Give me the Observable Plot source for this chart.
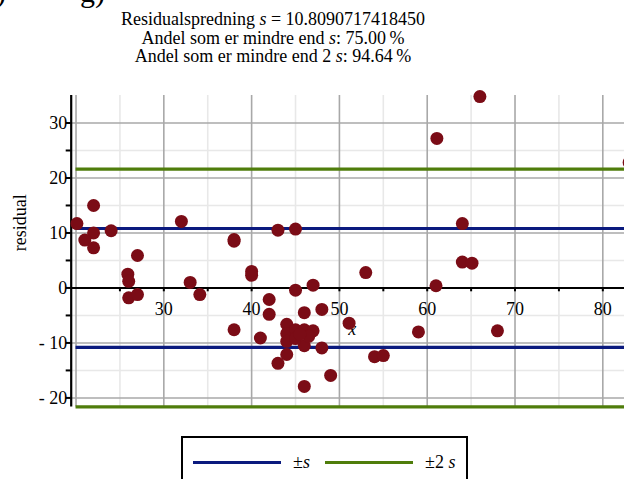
<!DOCTYPE html>
<html>
<head>
<meta charset="utf-8">
<script src="https://cdn.jsdelivr.net/npm/d3@7"></script>
<script src="https://cdn.jsdelivr.net/npm/@observablehq/plot@0.6"></script>
<style>
  html, body { margin: 0; padding: 0; background: #fff; }
  body { width: 624px; height: 479px; overflow: hidden; position: relative; font-family: "Liberation Serif", "Times New Roman", Times, serif; }
  #title { position: absolute; left: 0; top: 10px; width: 546px; text-align: center; font-size: 18px; line-height: 18.7px; color: #000; }
  #chart { position: absolute; left: 0; top: 80px; }
  #legend { position: absolute; left: 181px; top: 436px; width: 283px; height: 60px; border: 2px solid #000; }
  .lg-line { position: absolute; top: 23px; height: 3px; width: 88px; }
  .lg-text { position: absolute; top: 14px; font-size: 18px; line-height: 20px; }
  .top-frag { position: absolute; top: -24px; font-size: 30px; line-height: 32px; }
</style>
</head>
<body>
<div class="top-frag" style="left:-4px">)</div>
<div class="top-frag" style="left:80px">g)</div>
<div id="title">
  <div>Residualspredning <i>s</i> = 10.8090717418450</div>
  <div>Andel som er mindre end <i>s</i>: 75.00&#8201;%</div>
  <div>Andel som er mindre end 2 <i>s</i>: 94.64&#8201;%</div>
</div>
<div id="chart"></div>
<div id="legend">
  <div class="lg-line" style="left:10px;background:#0b1a7e"></div>
  <div class="lg-text" style="left:110px">±<i>s</i></div>
  <div class="lg-line" style="left:142px;background:#4f7d0b"></div>
  <div class="lg-text" style="left:242px">±2 <i>s</i></div>
</div>
<script>
// data
const xValues = [20.1, 22.0, 22.0, 21.0, 22.0, 24.0, 27.0, 25.9, 26.0, 26.0, 27.0, 32.0, 33.0, 34.1, 38.0, 38.0, 40.0, 40.0, 38.0, 41.0,
                 42.0, 42.0, 43.0, 45.0, 45.0, 47.0, 46.0, 48.0, 44.0, 44.0, 44.0, 45.0, 46.0, 47.0, 46.0, 45.0, 46.5, 48.0, 44.0, 43.0,
                 46.0, 49.0, 51.1, 53.0, 54.0, 55.0, 59.0, 61.0, 64.0, 65.1, 68.0, 64.0, 61.1, 66.0, 83.0, 45.5];
const residuals = [11.7, 15.0, 10.0, 8.7, 7.3, 10.4, 5.9, 2.5, 1.2, -1.8, -1.2, 12.1, 1.0, -1.2, 8.5, 8.8, 3.0, 2.3, -7.6, -9.1,
                   -2.1, -4.8, 10.5, 10.7, -0.4, 0.5, -4.5, -3.9, -6.6, -8.3, -9.7, -7.6, -7.6, -7.8, -10.5, -9.2, -8.8, -10.9, -12.1, -13.7,
                   -17.9, -15.9, -6.4, 2.8, -12.5, -12.3, -8.0, 0.4, 4.7, 4.5, -7.8, 11.7, 27.2, 34.8, 22.8, -8.4];
const s = 10.8090717418450;
const xTickLabels = [30, 40, 50, 60, 70, 80];
const yTickLabels = [30, 20, 10, 0, -10, -20];
const xMinorTicks = [25, 35, 45, 55, 65, 75];
const yMinorTicks = [25, 15, 5, -5, -15];
const xAllTicks = [25, 30, 35, 40, 45, 50, 55, 60, 65, 70, 75, 80];
const yAllTicks = [30, 25, 20, 15, 10, 5, 0, -5, -10, -15, -20];
const xMajorGrid = [20, 30, 40, 50, 60, 70, 80];

const xDomain = [19.45, 82.47];
const yDomain = [-21.65, 35];
const dataXMin = 20;

const points = xValues.map((x, i) => ({x, r: residuals[i]}));

const red = "#7b0c16", blue = "#0b1a7e", green = "#4f7d0b";
const font = "'Liberation Serif', 'Times New Roman', Times, serif";
const pxX = (xDomain[1] - xDomain[0]) / (624 - 70.7);

const plot = Plot.plot({
  width: 624, height: 340,
  marginLeft: 70.7, marginRight: 0, marginTop: 15, marginBottom: 13.5,
  style: {fontFamily: font, fontSize: "18px", background: "white", overflow: "visible"},
  x: {domain: xDomain, axis: null},
  y: {domain: yDomain, axis: null},
  marks: [
    Plot.ruleX(xMinorTicks, {stroke: "#e8e8e8", strokeWidth: 1.6}),
    Plot.ruleY(yMinorTicks, {stroke: "#e8e8e8", strokeWidth: 1.6}),
    Plot.ruleX(xMajorGrid, {stroke: "#a8a8a8", strokeWidth: 1.6}),
    Plot.ruleY(yTickLabels, {stroke: "#a8a8a8", strokeWidth: 1.6}),
    Plot.ruleY([s, -s], {x1: dataXMin, x2: xDomain[1], stroke: blue, strokeWidth: 3.2}),
    Plot.ruleY([2 * s, -2 * s], {x1: dataXMin, x2: xDomain[1], stroke: green, strokeWidth: 3.2}),
    Plot.ruleY([0], {stroke: "#000", strokeWidth: 2}),
    Plot.ruleX([xDomain[0]], {stroke: "#000", strokeWidth: 2.2}),
    Plot.ruleX(xAllTicks, {y1: 0, y2: -0.7, stroke: "#000", strokeWidth: 2}),
    Plot.ruleY(yAllTicks, {x1: xDomain[0] - 5 * pxX, x2: xDomain[0], stroke: "#000", strokeWidth: 2}),
    Plot.text(xTickLabels, {x: d => d, y: 0, dy: 21, text: d => String(d), fill: "#000", fontSize: 18}),
    Plot.text(yTickLabels, {x: xDomain[0], y: d => d, dx: -4, textAnchor: "end", text: d => d < 0 ? "- " + Math.abs(d) : String(d), fill: "#000", fontSize: 18}),
    Plot.text(["residual"], {frameAnchor: "left", dx: -51, rotate: -90, fill: "#000", fontSize: 18}),
    Plot.text(["x"], {frameAnchor: "middle", dx: 4.5, dy: 78, fill: "#000", fontSize: 18, fontStyle: "italic"}),
    Plot.dot(points, {x: "x", y: "r", r: 6.5, fill: red, stroke: "none"})
  ]
});
document.getElementById("chart").appendChild(plot);
</script>
</body>
</html>
